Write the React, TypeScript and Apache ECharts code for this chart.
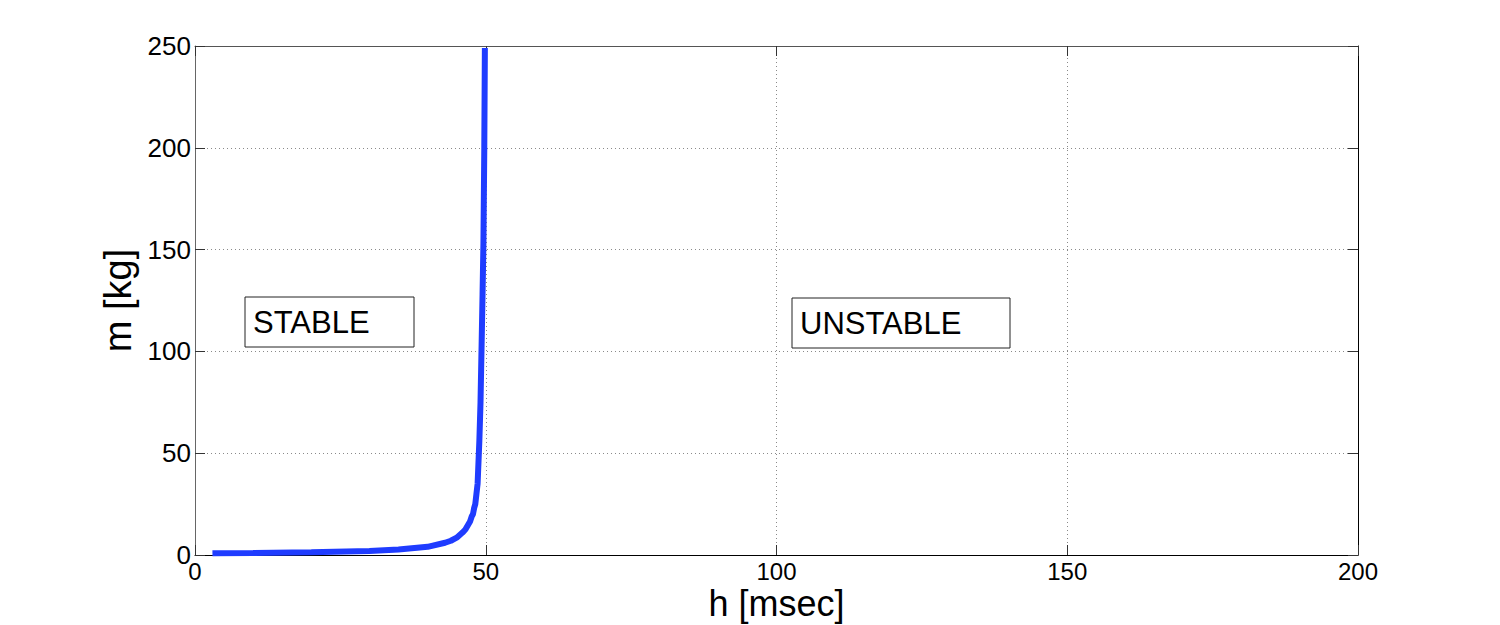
import React, { useEffect, useRef } from "react";
import * as echarts from "echarts";

const hValues = [3, 10, 20, 30, 35, 40, 43, 44, 45, 46, 46.5, 47, 47.3, 47.6, 47.8, 48, 48.2, 48.4, 48.6, 48.9, 49.1, 49.3, 49.45, 49.6, 49.75, 49.85];
const mValues = [0.8, 1.0, 1.4, 2.0, 2.7, 4, 6, 7, 8.5, 11, 12.5, 15, 16.5, 19, 20, 23, 25, 30, 35, 56, 75, 105, 128, 153, 200, 249];
const xTicks = [0, 50, 100, 150, 200];
const yTicks = [0, 50, 100, 150, 200, 250];
const annotations = [
  { text: "STABLE", x: 245, y: 297, w: 169, h: 50 },
  { text: "UNSTABLE", x: 792, y: 298, w: 218, h: 50 },
];

const FONT = "'Liberation Sans', Arial, Helvetica, sans-serif";

export default function App() {
  const ref = useRef<HTMLDivElement>(null);
  useEffect(() => {
    document.body.style.margin = "0";
    const chart = echarts.init(ref.current!, null, { renderer: "svg" });
    const data = hValues.map((h, i) => [h, mValues[i]]);
    const gridLine = { show: true, lineStyle: { color: "#8a8a8a", width: 1, type: [1, 3] as any } };
    const tick = { show: true, inside: true, length: 10, lineStyle: { color: "#333", width: 1 } };
    chart.setOption({
      animation: false,
      backgroundColor: "#fff",
      grid: { left: 195, right: 142, top: 46, bottom: 70, containLabel: false, outerBoundsMode: "none" },
      xAxis: [
        {
          type: "value",
          min: xTicks[0],
          max: xTicks[xTicks.length - 1],
          interval: 50,
          position: "bottom",
          name: "h [msec]",
          nameLocation: "middle",
          nameGap: 30,
          nameMoveOverlap: false,
          nameTextStyle: { fontFamily: FONT, fontSize: 36, color: "#000", lineHeight: 36 },
          axisLine: { show: true, onZero: false, lineStyle: { color: "#000", width: 1 } },
          axisTick: tick,
          axisLabel: { fontFamily: FONT, fontSize: 24, color: "#000", margin: 4, lineHeight: 24 },
          splitLine: gridLine,
        },
        {
          type: "value",
          min: xTicks[0],
          max: xTicks[xTicks.length - 1],
          interval: 50,
          position: "top",
          axisLine: { show: true, onZero: false, lineStyle: { color: "#555", width: 1 } },
          axisTick: tick,
          axisLabel: { show: false },
          splitLine: { show: false },
        },
      ],
      yAxis: [
        {
          type: "value",
          min: yTicks[0],
          max: yTicks[yTicks.length - 1],
          interval: 50,
          position: "left",
          name: "m [kg]",
          nameLocation: "middle",
          nameGap: 56,
          nameTextStyle: { fontFamily: FONT, fontSize: 38, color: "#000" },
          axisLine: { show: true, onZero: false, lineStyle: { color: "#666", width: 1 } },
          axisTick: tick,
          axisLabel: { fontFamily: FONT, fontSize: 26, color: "#000", margin: 4 },
          splitLine: gridLine,
        },
        {
          type: "value",
          min: yTicks[0],
          max: yTicks[yTicks.length - 1],
          interval: 50,
          position: "right",
          axisLine: { show: true, onZero: false, lineStyle: { color: "#000", width: 1 } },
          axisTick: tick,
          axisLabel: { show: false },
          splitLine: { show: false },
        },
      ],
      series: [
        {
          type: "line",
          data,
          xAxisIndex: 0,
          yAxisIndex: 0,
          showSymbol: false,
          symbol: "none",
          lineStyle: { color: "#1f3cff", width: 6 },
          z: 5,
        },
      ],
      graphic: annotations.map((a) => ({
        type: "group",
        x: a.x,
        y: a.y,
        z: 10,
        children: [
          { type: "rect", shape: { x: 0, y: 0, width: a.w, height: a.h }, style: { fill: "#fff", stroke: "#222", lineWidth: 1 } },
          {
            type: "text",
            x: 8,
            y: a.h / 2,
            style: { text: a.text, fontFamily: FONT, fontSize: 31, fill: "#000", verticalAlign: "middle", align: "left" },
          },
        ],
      })),
    });
    return () => chart.dispose();
  }, []);
  return <div ref={ref} style={{ position: "absolute", left: 0, top: 0, width: 1500, height: 625 }} />;
}
